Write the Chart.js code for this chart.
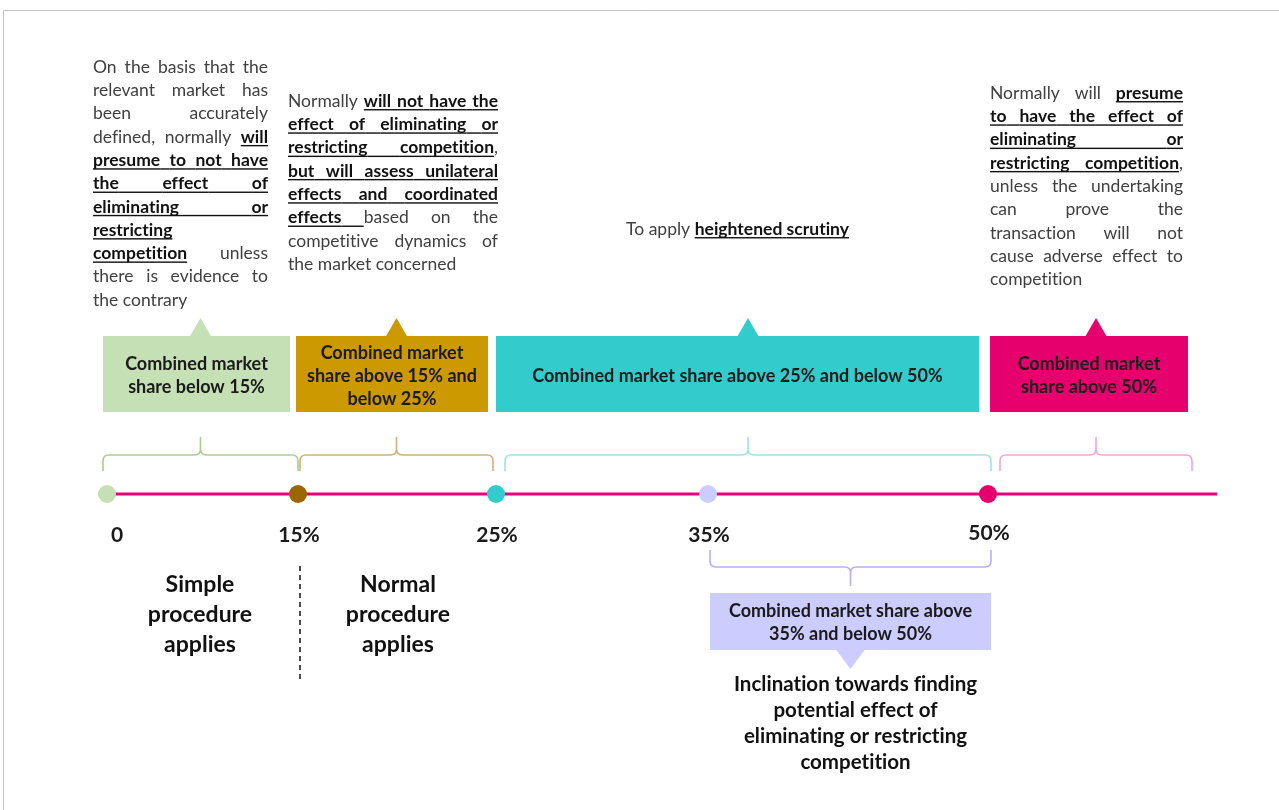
<!DOCTYPE html>
<html lang="en">
<head>
<meta charset="UTF-8">
<title>Combined market share thresholds</title>
<script src="https://cdn.jsdelivr.net/npm/chart.js"></script>
<style>
  html, body { margin: 0; padding: 0; background: #fff; }
  #wrap { width: 1279px; height: 810px; }
</style>
</head>
<body>
<div id="wrap"><canvas id="chart"></canvas></div>
<script>
// thresholds on the timeline (combined market share, %)
const thresholds = [0, 15, 25, 35, 50];
const thresholdLabels = ['0', '15%', '25%', '35%', '50%'];
const pointColors = ['#c5e0b4', '#9c6500', '#33cccc', '#ccccff', '#e6006e'];
const axisEnd = 62;

// bands shown above the line
const bandRanges = [[0, 15], [15, 25], [25, 50], [50, 60]];
const bandTitles = [
  ['Combined market', 'share below 15%'],
  ['Combined market', 'share above 15% and', 'below 25%'],
  ['Combined market share above 25% and below 50%'],
  ['Combined market', 'share above 50%']
];
const bandColors = ['#c5e0b4', '#cc9900', '#33cccc', '#e6006e'];
const braceColors = ['#a9cf90', '#d2b07a', '#9fe3e3', '#f3a6cb'];

// band shown below the line
const lowerRange = [35, 50];
const lowerTitle = ['Combined market share above', '35% and below 50%'];
const lowerNote = ['Inclination towards finding', 'potential effect of', 'eliminating or restricting', 'competition'];

const procedureLeft = ['Simple', 'procedure', 'applies'];
const procedureRight = ['Normal', 'procedure', 'applies'];

// notes: lines of [text, bold+underlined]
const noteLow = [
  [['On the basis that the', 0]],
  [['relevant market has', 0]],
  [['been accurately', 0]],
  [['defined, normally ', 0], ['will', 1]],
  [['presume to not have', 1]],
  [['the effect of', 1]],
  [['eliminating or', 1]],
  [['restricting', 1]],
  [['competition', 1], [' unless', 0]],
  [['there is evidence to', 0]],
  [['the contrary', 0]]
];
const noteMid = [
  [['Normally ', 0], ['will not have the', 1]],
  [['effect of eliminating or', 1]],
  [['restricting competition', 1], [',', 0]],
  [['but will assess unilateral', 1]],
  [['effects and coordinated', 1]],
  [['effects ', 1], ['based on the', 0]],
  [['competitive dynamics of', 0]],
  [['the market concerned', 0]]
];
const noteHeightened = [[['To apply ', 0], ['heightened scrutiny', 1]]];
const noteHigh = [
  [['Normally will ', 0], ['presume', 1]],
  [['to have the effect of', 1]],
  [['eliminating or', 1]],
  [['restricting competition', 1], [',', 0]],
  [['unless the undertaking', 0]],
  [['can prove the', 0]],
  [['transaction will not', 0]],
  [['cause adverse effect to', 0]],
  [['competition', 0]]
];

// layout (page pixels)
const axisStops = [[0, 107], [15, 298], [25, 496], [35, 708], [50, 988], [60, 1192], [62, 1217]];
const L = {
  lineY: 494, labelY: 535,
  braceEnd: 471, braceBar: 455, braceTip: 437,
  boxTop: 336, boxBottom: 412, arrowTip: 318,
  lowBraceEnd: 550, lowBraceBar: 567, lowBraceTip: 586,
  lowBoxTop: 593, lowBoxBottom: 650, lowArrowTip: 669
};
const boxOffsets = [[-4, -8], [-2, -8], [0, -9], [2, -4]];
const braceOffsets = [[-4, 0], [2, -3], [9, 3], [12, 0]];
const FONT = 'Lato, "Open Sans", sans-serif';

// piecewise axis so the thresholds sit where they do in the figure
class PiecewiseScale extends Chart.LinearScale {
  static id = 'piecewise';
  static defaults = Object.assign({}, Chart.LinearScale.defaults);
  getPixelForValue(v) {
    let i = 1;
    while (i < axisStops.length - 1 && v > axisStops[i][0]) i++;
    const [a, pa] = axisStops[i - 1];
    const [b, pb] = axisStops[i];
    const p = pa + (v - a) / (b - a) * (pb - pa);
    return this.left + p / 1279 * this.width;
  }
  getValueForPixel(px) {
    const p = (px - this.left) / this.width * 1279;
    let i = 1;
    while (i < axisStops.length - 1 && p > axisStops[i][1]) i++;
    const [a, pa] = axisStops[i - 1];
    const [b, pb] = axisStops[i];
    return a + (p - pa) / (pb - pa) * (b - a);
  }
}
Chart.register(PiecewiseScale);

function tokenize(runs) {
  const words = [], gaps = [];
  let cur = [];
  runs.forEach(([text, b]) => {
    for (const ch of text) {
      if (ch === ' ') {
        if (cur.length) { words.push(cur); cur = []; gaps.push(b); }
      } else {
        const last = cur[cur.length - 1];
        if (last && last.b === b) last.t += ch; else cur.push({ t: ch, b: b });
      }
    }
  });
  if (cur.length) words.push(cur);
  return { words, gaps: gaps.slice(0, words.length - 1) };
}

function setFont(ctx, b, size) {
  ctx.font = (b ? 'bold ' : '') + size + 'px ' + FONT;
  ctx.fillStyle = b ? '#111111' : '#404040';
}

function richLine(ctx, runs, x, y, w, size, mode) {
  const { words, gaps } = tokenize(runs);
  const widths = words.map(wd => wd.reduce((s, seg) => { setFont(ctx, seg.b, size); return s + ctx.measureText(seg.t).width; }, 0));
  const gapW = gaps.map(b => { setFont(ctx, b, size); return ctx.measureText(' ').width; });
  let total = widths.reduce((a, c) => a + c, 0);
  let gw = gapW.slice();
  if (mode === 'justify' && words.length > 1) {
    const g = (w - total) / (words.length - 1);
    gw = gaps.map(() => g);
  }
  const full = total + gw.reduce((a, c) => a + c, 0);
  let cx = mode === 'center' ? x - full / 2 : x;
  const base = y + size * 0.33;
  const ul = base + size * 0.13;
  ctx.textBaseline = 'alphabetic';
  ctx.textAlign = 'left';
  words.forEach((wd, i) => {
    wd.forEach(seg => {
      setFont(ctx, seg.b, size);
      const sw = ctx.measureText(seg.t).width;
      ctx.fillText(seg.t, cx, base);
      if (seg.b) ctx.fillRect(cx, ul, sw, 1.4);
      cx += sw;
    });
    if (i < gw.length) {
      const lastB = wd[wd.length - 1].b;
      if (gaps[i] && lastB) { setFont(ctx, 1, size); ctx.fillRect(cx, ul, gw[i], 1.4); }
      cx += gw[i];
    }
  });
}

function paragraph(ctx, lines, x, y, w, lh, size) {
  lines.forEach((runs, i) => {
    richLine(ctx, runs, x, y + i * lh, w, size, i === lines.length - 1 ? 'left' : 'justify');
  });
}

function centeredLines(ctx, lines, cx, cy, lh, size, color) {
  ctx.font = 'bold ' + size + 'px ' + FONT;
  ctx.fillStyle = color;
  ctx.textAlign = 'center';
  ctx.textBaseline = 'alphabetic';
  const y0 = cy - (lines.length - 1) * lh / 2;
  lines.forEach((t, i) => ctx.fillText(t, cx, y0 + i * lh + size * 0.33));
}

function brace(ctx, x1, x2, yEnd, yBar, yTip, color) {
  const d = Math.sign(yTip - yBar);
  const r = 6;
  const xm = (x1 + x2) / 2;
  ctx.beginPath();
  ctx.moveTo(x1, yEnd);
  ctx.lineTo(x1, yBar - d * r);
  ctx.quadraticCurveTo(x1, yBar, x1 + r, yBar);
  ctx.lineTo(xm - r, yBar);
  ctx.quadraticCurveTo(xm, yBar, xm, yBar + d * r);
  ctx.lineTo(xm, yTip);
  ctx.moveTo(xm, yBar + d * r);
  ctx.quadraticCurveTo(xm, yBar, xm + r, yBar);
  ctx.lineTo(x2 - r, yBar);
  ctx.quadraticCurveTo(x2, yBar, x2, yBar - d * r);
  ctx.lineTo(x2, yEnd);
  ctx.strokeStyle = color;
  ctx.lineWidth = 1.6;
  ctx.stroke();
}

const decorations = {
  id: 'decorations',
  beforeDraw(chart) {
    const ctx = chart.ctx;
    ctx.save();
    ctx.fillStyle = '#ffffff';
    ctx.fillRect(0, 0, chart.width, chart.height);
    ctx.strokeStyle = '#c4c4c4';
    ctx.lineWidth = 1;
    ctx.beginPath();
    ctx.moveTo(3.5, chart.height);
    ctx.lineTo(3.5, 10.5);
    ctx.lineTo(chart.width, 10.5);
    ctx.stroke();
    ctx.restore();
  },
  afterDraw(chart) {
    const ctx = chart.ctx;
    const xs = chart.scales.x, ys = chart.scales.y;
    const X = v => xs.getPixelForValue(v);
    const Y = v => ys.getPixelForValue(v);
    ctx.save();
    // keep "ti" from turning into a ligature
    ctx.letterSpacing = '0.01px';

    // threshold labels
    ctx.font = 'bold 21px ' + FONT;
    ctx.fillStyle = '#1a1a1a';
    ctx.textAlign = 'center';
    ctx.textBaseline = 'middle';
    thresholds.forEach((t, i) => {
      ctx.fillText(thresholdLabels[i], X(t) + (i === 0 ? 10 : 1), Y(L.labelY) + (i === 4 ? -2 : 0));
    });

    // bands above the line: brace, box with pointer, title
    bandRanges.forEach(([a, b], i) => {
      const bl = X(a) + braceOffsets[i][0], br = X(b) + braceOffsets[i][1];
      brace(ctx, bl, br, Y(L.braceEnd), Y(L.braceBar), Y(L.braceTip), braceColors[i]);
      const x1 = X(a) + boxOffsets[i][0], x2 = X(b) + boxOffsets[i][1];
      const tip = (bl + br) / 2;
      ctx.fillStyle = bandColors[i];
      ctx.fillRect(x1, Y(L.boxTop), x2 - x1, Y(L.boxBottom) - Y(L.boxTop));
      ctx.beginPath();
      ctx.moveTo(tip - 11, Y(L.boxTop) + 1);
      ctx.lineTo(tip, Y(L.arrowTip));
      ctx.lineTo(tip + 11, Y(L.boxTop) + 1);
      ctx.closePath();
      ctx.fill();
      centeredLines(ctx, bandTitles[i], (x1 + x2) / 2, (Y(L.boxTop) + Y(L.boxBottom)) / 2 + 2, 23, 18, '#1a1a1a');
    });

    // band below the line
    const lx1 = X(lowerRange[0]) + 2, lx2 = X(lowerRange[1]) + 3, lm = (lx1 + lx2) / 2;
    brace(ctx, lx1, lx2, Y(L.lowBraceEnd), Y(L.lowBraceBar), Y(L.lowBraceTip), '#b9aef5');
    ctx.fillStyle = '#ccccff';
    ctx.fillRect(lx1, Y(L.lowBoxTop), lx2 - lx1, Y(L.lowBoxBottom) - Y(L.lowBoxTop));
    ctx.beginPath();
    ctx.moveTo(lm - 15, Y(L.lowBoxBottom) - 1);
    ctx.lineTo(lm, Y(L.lowArrowTip));
    ctx.lineTo(lm + 15, Y(L.lowBoxBottom) - 1);
    ctx.closePath();
    ctx.fill();
    centeredLines(ctx, lowerTitle, lm, (Y(L.lowBoxTop) + Y(L.lowBoxBottom)) / 2 + 1, 23, 18, '#1a1a1a');
    centeredLines(ctx, lowerNote, lm + 5, 723, 26, 20.5, '#111111');

    // procedures
    centeredLines(ctx, procedureLeft, 200, 614, 30, 23, '#111111');
    centeredLines(ctx, procedureRight, 398, 614, 30, 23, '#111111');
    ctx.strokeStyle = '#111111';
    ctx.lineWidth = 1.5;
    ctx.setLineDash([5, 4]);
    ctx.beginPath();
    ctx.moveTo(X(thresholds[1]) + 2, 566);
    ctx.lineTo(X(thresholds[1]) + 2, 680);
    ctx.stroke();
    ctx.setLineDash([]);

    // notes
    paragraph(ctx, noteLow, 93, 67, 175, 23.3, 17.5);
    paragraph(ctx, noteMid, 288, 101, 210, 23.3, 17.5);
    paragraph(ctx, noteHigh, 990, 93, 193, 23.3, 17.5);
    const teal = bandRanges[2];
    richLine(ctx, noteHeightened[0], (X(teal[0]) + X(teal[1]) - 9) / 2, 229, 0, 17.5, 'center');

    ctx.restore();
  }
};

new Chart(document.getElementById('chart'), {
  type: 'scatter',
  data: {
    datasets: [
      {
        data: thresholds.map(t => ({ x: t, y: L.lineY })),
        pointRadius: 9,
        pointHoverRadius: 9,
        pointBorderWidth: 0,
        pointBackgroundColor: pointColors,
        showLine: false,
        clip: false,
        order: 0
      },
      {
        data: [{ x: thresholds[0], y: L.lineY }, { x: axisEnd, y: L.lineY }],
        showLine: true,
        borderColor: '#e6007a',
        borderWidth: 3,
        pointRadius: 0,
        clip: false,
        order: 1
      }
    ]
  },
  options: {
    responsive: true,
    maintainAspectRatio: false,
    animation: false,
    events: [],
    layout: { padding: 0, autoPadding: false },
    plugins: { legend: { display: false }, tooltip: { enabled: false } },
    scales: {
      x: { type: 'piecewise', min: 0, max: axisEnd, display: false },
      y: { type: 'linear', min: 0, max: 810, reverse: true, display: false }
    }
  },
  plugins: [decorations]
});
</script>
</body>
</html>
